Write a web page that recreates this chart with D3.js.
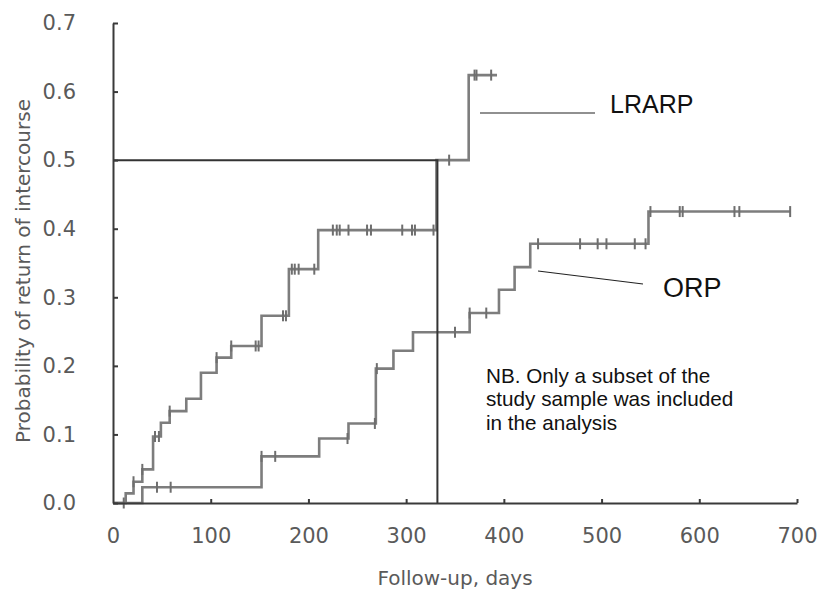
<!DOCTYPE html>
<html>
<head>
<meta charset="utf-8">
<script src="https://cdn.jsdelivr.net/npm/d3@7"></script>
<style>
  body { margin: 0; background: #fff; }
  svg { display: block; }
  .tick text { fill: #5a5a5a; font-family: "DejaVu Sans", sans-serif; }
</style>
</head>
<body>
<div id="chart"></div>
<script>
// step curves (days, probability)
var lrarpTimes = [0, 13, 21, 30, 41, 49, 58, 75, 90, 106, 121, 152, 180, 210, 331, 364];
var lrarpProbs = [0, 0.014, 0.031, 0.049, 0.097, 0.117, 0.134, 0.152, 0.19, 0.212, 0.229, 0.273, 0.341, 0.398, 0.5, 0.624];
var lrarpEnd = 393;
var lrarpCensored = [11, 21, 30, 43, 47, 58, 106, 121, 146, 149, 174, 177, 183, 186, 190, 206,
                     225, 229, 232, 241, 260, 264, 296, 306, 309, 328, 344, 370, 372, 387];

var orpTimes = [0, 30, 152, 211, 241, 269, 287, 307, 365, 395, 411, 427, 548];
var orpProbs = [0, 0.023, 0.068, 0.094, 0.116, 0.196, 0.222, 0.249, 0.277, 0.311, 0.344, 0.378, 0.425];
var orpEnd = 693;
var orpCensored = [45, 59, 152, 166, 240, 268, 270, 350, 365, 382, 435, 478, 496, 505, 534, 545,
                   550, 580, 583, 636, 641, 693];

// median lines
var medianProb = 0.5;
var medianDay = 332;

var xTicks = [0, 100, 200, 300, 400, 500, 600, 700];
var yTicks = [0, 0.1, 0.2, 0.3, 0.4, 0.5, 0.6, 0.7];

var width = 819, height = 592;

var svg = d3.select("#chart").append("svg")
    .attr("width", width)
    .attr("height", height);

var x = d3.scaleLinear().domain([0, 700]).range([113, 797]);
var y = d3.scaleLinear().domain([0, 0.7]).range([503, 23]);

// value of a step curve at time t
var stepAt = function(times, probs, t) {
  var i = d3.bisectRight(times, t) - 1;
  return probs[Math.max(i, 0)];
};

var stepLine = d3.line()
    .x(function(d) { return x(d[0]); })
    .y(function(d) { return y(d[1]); })
    .curve(d3.curveStepAfter);

var drawCurve = function(times, probs, end, censored) {
  var pts = times.map(function(t, i) { return [t, probs[i]]; });
  pts.push([end, probs[probs.length - 1]]);

  svg.append("path")
      .attr("d", stepLine(pts))
      .attr("fill", "none")
      .attr("stroke", "#7d7d7d")
      .attr("stroke-width", 2.6);

  svg.selectAll(null)
      .data(censored)
    .enter().append("line")
      .attr("x1", function(d) { return x(d); })
      .attr("x2", function(d) { return x(d); })
      .attr("y1", function(d) { return y(stepAt(times, probs, d)) - 5.5; })
      .attr("y2", function(d) { return y(stepAt(times, probs, d)) + 5.5; })
      .attr("stroke", "#6e6e6e")
      .attr("stroke-width", 2);
};

drawCurve(orpTimes, orpProbs, orpEnd, orpCensored);
drawCurve(lrarpTimes, lrarpProbs, lrarpEnd, lrarpCensored);

// median reference lines
svg.append("path")
    .attr("d", "M" + x(0) + "," + y(medianProb) + "H" + x(medianDay) + "V" + y(0))
    .attr("fill", "none")
    .attr("stroke", "#333")
    .attr("stroke-width", 2);

// axes
var yAxis = svg.append("g")
    .attr("transform", "translate(" + x(0) + ",0)")
    .call(d3.axisLeft(y).tickValues(yTicks).tickFormat(d3.format(".1f"))
      .tickSizeInner(-5).tickSizeOuter(0).tickPadding(37));

var xAxis = svg.append("g")
    .attr("transform", "translate(0," + y(0) + ")")
    .call(d3.axisBottom(x).tickValues(xTicks).tickFormat(d3.format("d"))
      .tickSizeInner(-4).tickSizeOuter(0).tickPadding(25));

[yAxis, xAxis].forEach(function(a) {
  a.select(".domain").attr("stroke", "#3a3a3a").attr("stroke-width", 2);
  a.selectAll(".tick line").attr("stroke", "#3a3a3a").attr("stroke-width", 2);
  a.selectAll(".tick text").attr("font-size", 21);
});
xAxis.select(".tick:first-of-type line").remove();

// axis titles
svg.append("text")
    .attr("x", (x(0) + x(700)) / 2)
    .attr("y", 585)
    .attr("text-anchor", "middle")
    .attr("fill", "#5a5a5a")
    .style("font-family", "DejaVu Sans, sans-serif")
    .style("font-size", "20px")
    .text("Follow-up, days");

svg.append("text")
    .attr("transform", "translate(30,271) rotate(-90)")
    .attr("text-anchor", "middle")
    .attr("fill", "#5a5a5a")
    .style("font-family", "DejaVu Sans, sans-serif")
    .style("font-size", "20px")
    .text("Probability of return of intercourse");

// curve labels with leader lines
svg.append("line")
    .attr("x1", 480).attr("y1", 113).attr("x2", 595).attr("y2", 113)
    .attr("stroke", "#222").attr("stroke-width", 1.2);
svg.append("text")
    .attr("x", 610).attr("y", 113)
    .attr("fill", "#111")
    .style("font-family", "Liberation Sans, Arial, sans-serif")
    .style("font-size", "25px")
    .text("LRARP");

svg.append("line")
    .attr("x1", 538).attr("y1", 271).attr("x2", 643).attr("y2", 284)
    .attr("stroke", "#222").attr("stroke-width", 1.2);
svg.append("text")
    .attr("x", 663).attr("y", 297)
    .attr("fill", "#111")
    .style("font-family", "Liberation Sans, Arial, sans-serif")
    .style("font-size", "27px")
    .text("ORP");

// note
var note = ["NB. Only a subset of the", "study sample was included", "in the analysis"];
svg.append("text")
    .attr("fill", "#111")
    .style("font-family", "Liberation Sans, Arial, sans-serif")
    .style("font-size", "20.7px")
  .selectAll("tspan")
    .data(note)
  .enter().append("tspan")
    .attr("x", 486)
    .attr("y", function(d, i) { return 383 + i * 23.3; })
    .text(function(d) { return d; });
</script>
</body>
</html>
